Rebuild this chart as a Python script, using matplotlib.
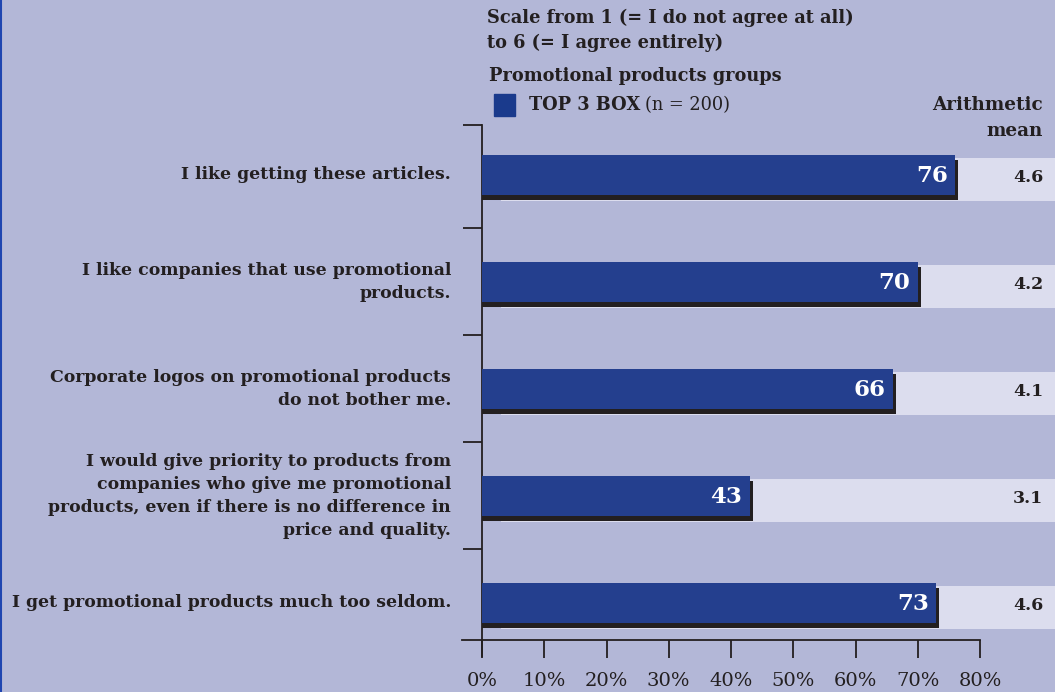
"""Top-3-box agreement with statements about promotional products."""

import matplotlib

matplotlib.use("Agg")
import matplotlib.pyplot as plt
from matplotlib.patches import Rectangle

statements = [
    "I like getting these articles.",
    "I like companies that use promotional\nproducts.",
    "Corporate logos on promotional products\ndo not bother me.",
    "I would give priority to products from\ncompanies who give me promotional\nproducts, even if there is no difference in\nprice and quality.",
    "I get promotional products much too seldom.",
]
top3_pct = [76, 70, 66, 43, 73]
arith_mean = [4.6, 4.2, 4.1, 3.1, 4.6]
x_ticks = [0, 10, 20, 30, 40, 50, 60, 70, 80]

BG = "#b3b7d7"
BAR = "#243f8e"
BAND = "#dcddee"
SHADOW = "#231f20"
INK = "#231f20"
SERIF = "DejaVu Serif"

W, H = 1055, 692
fig = plt.figure(figsize=(W / 100, H / 100), dpi=100, facecolor=BG)

# axes: x from px 482 (0%) to the right edge, y from px 125 to 640
left, right, top, bottom = 482, 1055, 125, 640
ax = fig.add_axes([left / W, 1 - bottom / H, (right - left) / W, (bottom - top) / H])
ax.set_facecolor(BG)
px_per_pct = (980 - 482) / 80
ax.set_xlim(0, (right - left) / px_per_pct)
ax.set_ylim(4.346, -0.467)

bar_h = 0.375
dx, dy = 3 / px_per_pct, 5 / 107
for i, (v, m) in enumerate(zip(top3_pct, arith_mean)):
    # light band behind the bar, running to the mean column
    ax.add_patch(Rectangle((3, i - 0.16), 100, 0.40, color=BAND, lw=0, zorder=1))
    ax.add_patch(Rectangle((0, i - bar_h / 2 + dy), v + dx, bar_h, color=SHADOW, lw=0, zorder=2))
    ax.barh(i, v, height=bar_h, color=BAR, zorder=3)
    ax.text(v - 1.2, i + 0.01, f"{v}", ha="right", va="center", color="white",
            fontsize=16.5, fontweight="bold", family=SERIF, zorder=4)
    ax.text(90.2, i + 0.02, f"{m:.1f}", ha="right", va="center", color=INK,
            fontsize=12.5, fontweight="bold", family=SERIF)
    ax.text(-5.0, i, statements[i], ha="right", va="center", color=INK,
            fontsize=12.4, fontweight="bold", family=SERIF, linespacing=1.48)

for s in ("top", "right"):
    ax.spines[s].set_visible(False)
ax.spines["left"].set_bounds(-0.467, 4.5)
ax.spines["bottom"].set_bounds(-3.2, 80)
for s in ("left", "bottom"):
    ax.spines[s].set_color(INK)
    ax.spines[s].set_linewidth(1.3)

ax.set_xticks(x_ticks)
ax.set_xticklabels([f"{t}%" for t in x_ticks], family=SERIF, fontsize=14, color=INK)
ax.tick_params(axis="x", length=13, width=1.3, color=INK, pad=10)
ax.set_yticks([-0.467, 0.5, 1.5, 2.5, 3.5])
ax.set_yticklabels([])
ax.tick_params(axis="y", length=14, width=1.3, color=INK)

# header
hdr = dict(ha="left", va="center", fontsize=12.8, fontweight="bold", family=SERIF, color=INK)
fig.text(487 / W, 1 - 18 / H, "Scale from 1 (= I do not agree at all)", **hdr)
fig.text(487 / W, 1 - 43 / H, "to 6 (= I agree entirely)", **hdr)
fig.text(489 / W, 1 - 76 / H, "Promotional products groups", **hdr)
fig.patches.append(Rectangle((494 / W, 1 - 116 / H), 21 / W, 22 / H, color="#1a3a8c",
                             transform=fig.transFigure, figure=fig))
t = fig.text(529 / W, 1 - 105 / H, "TOP 3 BOX", **hdr)
fig.canvas.draw()
bb = t.get_window_extent()
fig.text((bb.x1 + 5) / W, 1 - 105 / H, "(n = 200)", ha="left", va="center",
         fontsize=12.8, family=SERIF, color=INK)
fig.text(1043 / W, 1 - 105 / H, "Arithmetic", ha="right", va="center",
         fontsize=13.2, fontweight="bold", family=SERIF, color=INK)
fig.text(1043 / W, 1 - 131 / H, "mean", ha="right", va="center",
         fontsize=13.2, fontweight="bold", family=SERIF, color=INK)

# blue rule at the left edge
fig.add_artist(plt.Line2D([0.6 / W, 0.6 / W], [0, 1], color="#1f45b0", lw=1.5, transform=fig.transFigure))

fig.savefig("out.png", dpi=100, facecolor=BG)
